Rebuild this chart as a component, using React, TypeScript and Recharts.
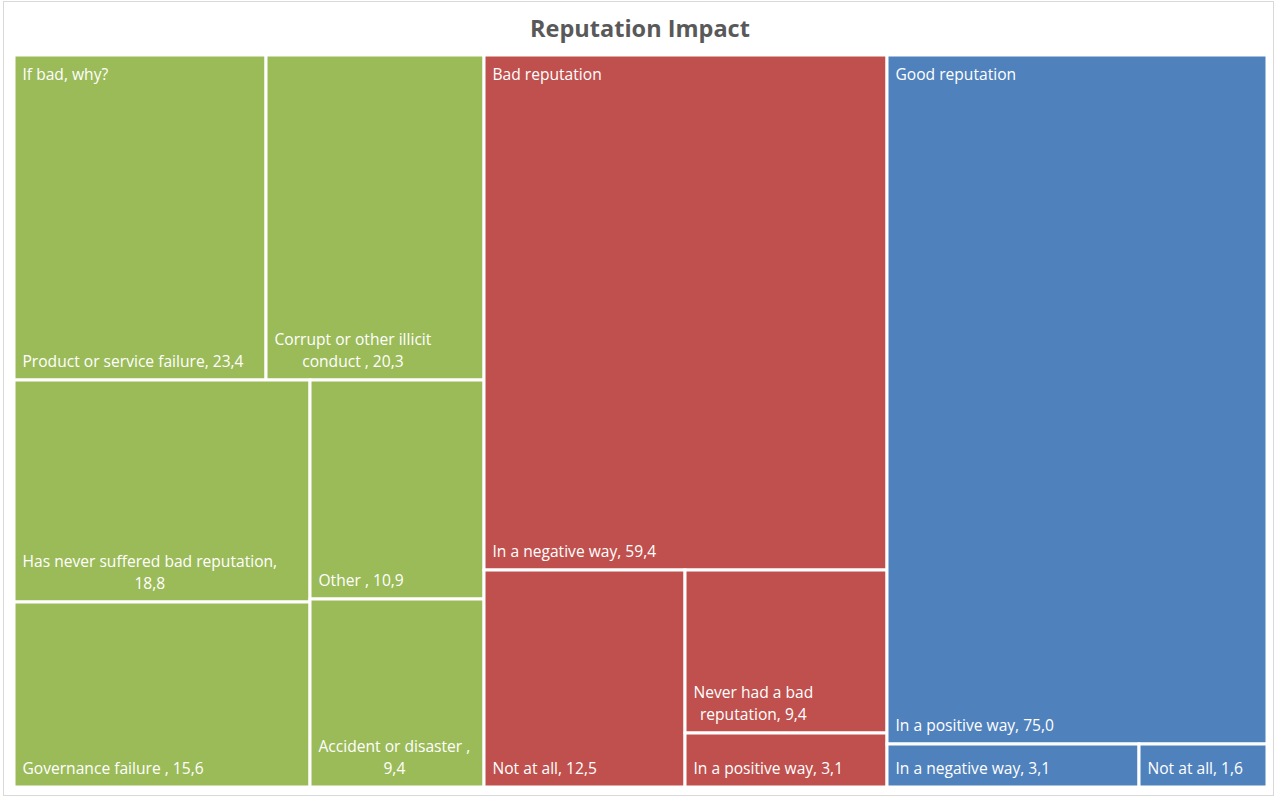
import React from 'react';
import { Treemap } from 'recharts';

// group order as in the chart: left to right
const groupNames = ['If bad, why?', 'Bad reputation', 'Good reputation'];
const groupColors = ['#9BBB59', '#C0504D', '#4F81BD'];

const whyNames = [
  'Product or service failure',
  'Corrupt or other illicit conduct ',
  'Has never suffered bad reputation',
  'Governance failure ',
  'Other ',
  'Accident or disaster ',
];
const whyValues = [23.4, 20.3, 18.8, 15.6, 10.9, 9.4];

const badNames = ['In a negative way', 'Not at all', 'Never had a bad reputation', 'In a positive way'];
const badValues = [59.4, 12.5, 9.4, 3.1];

const goodNames = ['In a positive way', 'In a negative way', 'Not at all'];
const goodValues = [75.0, 3.1, 1.6];

const leafNames = [whyNames, badNames, goodNames];
const leafValues = [whyValues, badValues, goodValues];

const data = groupNames.map((g, gi) => ({
  name: g,
  children: leafNames[gi].map((n, i) => ({ name: n, size: leafValues[gi][i], group: gi })),
}));

const FONT = '"Open Sans", sans-serif';
const LABEL_SIZE = 15.6;

let ctx: CanvasRenderingContext2D | null = null;
function measure(t: string, size = LABEL_SIZE) {
  if (!ctx) ctx = document.createElement('canvas').getContext('2d');
  if (!ctx) return t.length * size * 0.5;
  ctx.font = `${size}px ${FONT}`;
  return ctx.measureText(t).width;
}

function wrap(text: string, maxW: number) {
  const words = text.split(' ');
  const lines: string[] = [];
  let cur = '';
  for (const w of words) {
    const test = cur ? cur + ' ' + w : w;
    if (!cur || measure(test) <= maxW) cur = test;
    else {
      lines.push(cur);
      cur = w;
    }
  }
  if (cur) lines.push(cur);
  return lines;
}

const fmt = (v: number) => v.toFixed(1).replace('.', ',');

function Cell(props: any) {
  const { x, y, width, height, depth, name, size, group, index } = props;
  if (depth !== 2) return <g />;
  const label = `${name}, ${fmt(size)}`;
  const lines = wrap(label, width - 16);
  const blockW = Math.max(...lines.map((l) => measure(l)));
  const cx = x + 8.5 + blockW / 2;
  const lastY = y + height - 13;
  return (
    <g>
      <rect x={x} y={y} width={width} height={height} fill={groupColors[group]} stroke="#fff" strokeWidth={3} />
      {index === 0 && (
        <text x={x + 8.5} y={y + 25} fill="#fff" fontSize={LABEL_SIZE} fontFamily={FONT}>
          {groupNames[group]}
        </text>
      )}
      {lines.map((l, i) => (
        <text
          key={i}
          x={cx}
          y={lastY - (lines.length - 1 - i) * 22.5}
          textAnchor="middle"
          fill="#fff"
          fontSize={LABEL_SIZE}
          fontFamily={FONT}
        >
          {l}
        </text>
      ))}
    </g>
  );
}

export default function App() {
  return (
    <div style={{ position: 'absolute', left: 0, top: 0, width: 1277, height: 798, background: '#fff' }}>
      <svg width={1277} height={798} style={{ position: 'absolute', left: 0, top: 0 }}>
        <rect x={3.5} y={1.5} width={1270} height={794} fill="#fff" stroke="#d9d9d9" />
        <text x={640} y={37} textAnchor="middle" fill="#595959" fontSize={23.5} fontWeight="bold" fontFamily={FONT}>
          Reputation Impact
        </text>
      </svg>
      <div style={{ position: 'absolute', left: 14, top: 55 }}>
        <Treemap
          width={1253}
          height={732}
          data={data}
          dataKey="size"
          nameKey="name"
          aspectRatio={1}
          isAnimationActive={false}
          content={<Cell />}
        />
      </div>
    </div>
  );
}
